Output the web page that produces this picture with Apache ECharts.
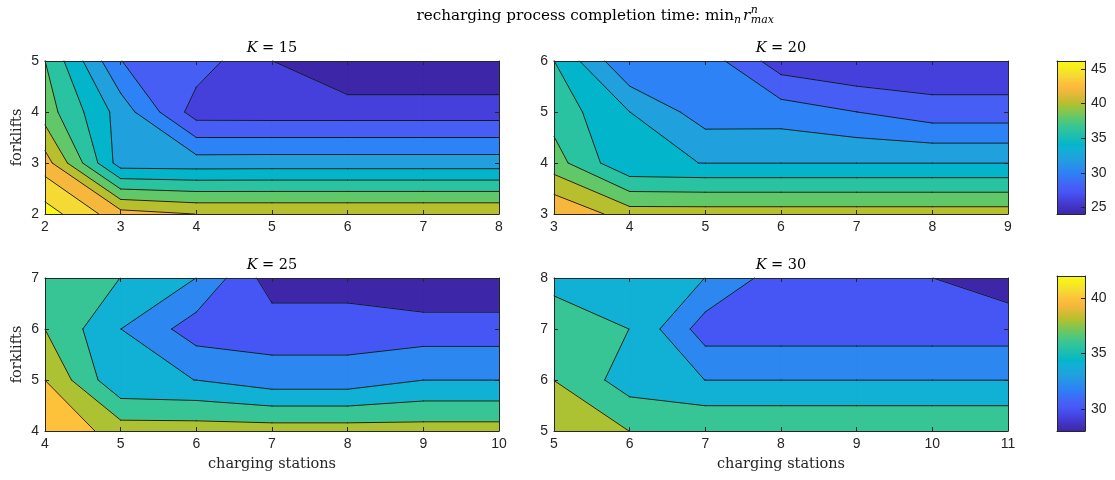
<!DOCTYPE html>
<html><head><meta charset="utf-8">
<script src="https://cdn.jsdelivr.net/npm/echarts@6/dist/echarts.min.js"></script>
<style>html,body{margin:0;padding:0;background:#fff}#chart{width:1115px;height:480px}</style>
</head><body><div id="chart"></div>
<script>
// ---------------- data ----------------
const fleetSizes = [15, 20, 25, 30];

const stations15 = [2, 3, 4, 5, 6, 7, 8];
const forklifts15 = [2, 3, 4, 5];
const time15 = [
  [46.96, 42.8, 41.98, 41.97, 41.97, 41.97, 41.97],
  [42.95, 33.0, 32.95, 33.0, 33.0, 33.0, 33.0],
  [39.0, 33.15, 27.05, 27.0, 27.0, 27.0, 27.0],
  [38.02, 30.02, 29.0, 26.02, 24.06, 24.06, 24.06]
];

const stations20 = [3, 4, 5, 6, 7, 8, 9];
const forklifts20 = [3, 4, 5, 6];
const time20 = [
  [43.95, 41.0, 41.0, 41.0, 41.0, 41.0, 41.0],
  [38.87, 34.2, 33.98, 33.98, 33.98, 33.98, 33.98],
  [37.2, 34.01, 31.0, 31.03, 30.01, 28.9, 28.9],
  [36.02, 30.05, 31.1, 26.9, 26.05, 26.25, 26.25]
];

const stations25 = [4, 5, 6, 7, 8, 9, 10];
const forklifts25 = [4, 5, 6, 7];
const time25 = [
  [41.94, 39.0, 39.0, 38.97, 38.97, 38.88, 38.88],
  [39.99, 34.3, 33.99, 32.9, 32.9, 33.99, 33.99],
  [37.99, 34.01, 31.02, 31.06, 31.06, 30.97, 30.97],
  [37.0, 35.99, 33.99, 28.98, 28.98, 28.03, 28.03]
];

const stations30 = [5, 6, 7, 8, 9, 10, 11];
const forklifts30 = [5, 6, 7, 8];
const time30 = [
  [39.0, 37.99, 37.98, 37.98, 37.98, 37.98, 37.98],
  [37.99, 35.02, 33.99, 33.99, 33.99, 33.99, 33.99],
  [37.0, 35.99, 31.0, 31.0, 31.0, 31.0, 31.0],
  [35.46, 35.0, 33.99, 30.92, 30.5, 30.01, 29.04]
];

const levelsTop = [26, 28, 30, 32, 34, 36, 38, 40, 42, 44, 46];
const levelsBottom = [30, 32, 34, 36, 38, 40];
const colorRangeTop = [24.06, 46.15];
const colorRangeBottom = [28.0, 42.0];
const colorTicksTop = [25, 30, 35, 40, 45];
const colorTicksBottom = [30, 35, 40];

// parula-like colormap stops [fraction, colour]
const parulaStops = [
  [0.000, '#3E26A8'], [0.088, '#4540DC'], [0.143, '#4656F5'], [0.178, '#475EF5'],
  [0.269, '#2D82F6'], [0.286, '#2C87F1'], [0.359, '#21A0DE'], [0.429, '#10B1D5'],
  [0.450, '#03B5CA'], [0.540, '#2AC3A1'], [0.571, '#38C595'], [0.630, '#60C86B'],
  [0.714, '#ADC232'], [0.725, '#BBBD2E'], [0.810, '#F6B73D'], [0.857, '#FEC13A'],
  [0.900, '#F5D835'], [1.000, '#F9FB0E']
];

// ---------------- helpers ----------------
function hex2rgb(h) { return [parseInt(h.substr(1,2),16), parseInt(h.substr(3,2),16), parseInt(h.substr(5,2),16)]; }
function parula(f) {
  f = Math.max(0, Math.min(1, f));
  for (let k = 0; k < parulaStops.length - 1; k++) {
    const a = parulaStops[k], b = parulaStops[k + 1];
    if (f <= b[0]) {
      const s = (f - a[0]) / (b[0] - a[0]);
      const ca = hex2rgb(a[1]), cb = hex2rgb(b[1]);
      const c = ca.map((v, i) => Math.round(v + s * (cb[i] - v)));
      return 'rgb(' + c.join(',') + ')';
    }
  }
  return parulaStops[parulaStops.length - 1][1];
}

const panels = [
  { K: fleetSizes[0], xs: stations15, ys: forklifts15, z: time15, levels: levelsTop, range: colorRangeTop },
  { K: fleetSizes[1], xs: stations20, ys: forklifts20, z: time20, levels: levelsTop, range: colorRangeTop },
  { K: fleetSizes[2], xs: stations25, ys: forklifts25, z: time25, levels: levelsBottom, range: colorRangeBottom },
  { K: fleetSizes[3], xs: stations30, ys: forklifts30, z: time30, levels: levelsBottom, range: colorRangeBottom }
];
const boxes = [
  { left: 45, top: 61, width: 454, height: 153 },
  { left: 554, top: 61, width: 454, height: 153 },
  { left: 45, top: 278, width: 454, height: 153 },
  { left: 554, top: 278, width: 454, height: 153 }
];
const cbBoxes = [
  { left: 1057, top: 61, width: 28, height: 153 },
  { left: 1057, top: 276, width: 28, height: 155 }
];

function clip(poly, t, keepAbove) {
  const out = [];
  const n = poly.length;
  for (let k = 0; k < n; k++) {
    const a = poly[k], b = poly[(k + 1) % n];
    const ina = keepAbove ? a.z >= t : a.z < t;
    const inb = keepAbove ? b.z >= t : b.z < t;
    if (ina) out.push(a);
    if (ina !== inb) {
      const s = (t - a.z) / (b.z - a.z);
      out.push({ x: a.x + s * (b.x - a.x), y: a.y + s * (b.y - a.y), z: t });
    }
  }
  return out;
}
function corners(p, i, j) {
  return [
    { x: p.xs[i], y: p.ys[j], z: p.z[j][i] },
    { x: p.xs[i + 1], y: p.ys[j], z: p.z[j][i + 1] },
    { x: p.xs[i + 1], y: p.ys[j + 1], z: p.z[j + 1][i + 1] },
    { x: p.xs[i], y: p.ys[j + 1], z: p.z[j + 1][i] }
  ];
}
function cellData(p) {
  const d = [];
  for (let j = 0; j < p.ys.length - 1; j++)
    for (let i = 0; i < p.xs.length - 1; i++) d.push([p.xs[i], p.ys[j], i, j]);
  return d;
}
function fillRender(p) {
  return function (params, api) {
    const i = api.value(2), j = api.value(3);
    const quad = corners(p, i, j);
    const children = [];
    const L = p.levels.length;
    for (let k = 0; k <= L; k++) {
      let poly = quad;
      if (k > 0) poly = clip(poly, p.levels[k - 1], true);
      if (k < L && poly.length) poly = clip(poly, p.levels[k], false);
      if (poly.length < 3) continue;
      const v = k === 0 ? p.range[0] : p.levels[k - 1];
      const col = parula((v - p.range[0]) / (p.range[1] - p.range[0]));
      children.push({ type: 'polygon', shape: { points: poly.map(q => api.coord([q.x, q.y])) },
        style: { fill: col, stroke: col, lineWidth: 1.2, lineJoin: 'round' } });
    }
    return { type: 'group', children };
  };
}
function lineRender(p) {
  return function (params, api) {
    const i = api.value(2), j = api.value(3);
    const quad = corners(p, i, j);
    const children = [];
    for (const t of p.levels) {
      const cr = [];
      for (let e = 0; e < 4; e++) {
        const a = quad[e], b = quad[(e + 1) % 4];
        const ua = a.z >= t, ub = b.z >= t;
        if (ua !== ub) {
          const s = (t - a.z) / (b.z - a.z);
          cr.push({ pt: api.coord([a.x + s * (b.x - a.x), a.y + s * (b.y - a.y)]), exit: ua });
        }
      }
      for (let m = 0; m < cr.length; m++) {
        if (cr[m].exit) {
          const nx = cr[(m + 1) % cr.length];
          children.push({ type: 'line', shape: { x1: cr[m].pt[0], y1: cr[m].pt[1], x2: nx.pt[0], y2: nx.pt[1] },
            style: { stroke: '#111', lineWidth: 0.9, lineCap: 'round' } });
        }
      }
    }
    return { type: 'group', children };
  };
}
function cbRender(range) {
  return function (params, api) {
    const p0 = api.coord([0, range[0]]), p1 = api.coord([1, range[1]]);
    return { type: 'rect', shape: { x: p0[0], y: p1[1], width: p1[0] - p0[0], height: p0[1] - p1[1] },
      style: { fill: new echarts.graphic.LinearGradient(0, 1, 0, 0, parulaStops.map(s => ({ offset: s[0], color: s[1] }))) } };
  };
}

// ---------------- option ----------------
const axisColor = '#262626';
const sans = "'Liberation Sans', Arial, Helvetica, sans-serif";
const serif = "'DejaVu Serif', serif";
const grids = [], xAxes = [], yAxes = [], series = [];

function axisBase(g, min, max, pos, showLabel, showTick) {
  return {
    type: 'value', gridIndex: g, min, max, position: pos, z: 5,
    axisLine: { show: true, onZero: false, lineStyle: { color: axisColor, width: 1 } },
    axisTick: { show: showTick, inside: true, length: 4, lineStyle: { color: axisColor, width: 1 } },
    axisLabel: { show: showLabel, color: axisColor, fontFamily: sans, fontSize: 14, margin: 6 },
    splitLine: { show: false }
  };
}

panels.forEach((p, g) => {
  grids.push(Object.assign({ containLabel: false }, boxes[g]));
  const xmin = p.xs[0], xmax = p.xs[p.xs.length - 1], ymin = p.ys[0], ymax = p.ys[p.ys.length - 1];
  const xb = axisBase(g, xmin, xmax, 'bottom', true, true); xb.interval = 1;
  const xt = axisBase(g, xmin, xmax, 'top', false, true); xt.interval = 1;
  const yl = axisBase(g, ymin, ymax, 'left', true, true); yl.interval = 1; yl.axisLabel.margin = 6;
  const yr = axisBase(g, ymin, ymax, 'right', false, true); yr.interval = 1;
  const xi = xAxes.length, yi = yAxes.length;
  xAxes.push(xb, xt); yAxes.push(yl, yr);
  series.push({ type: 'custom', coordinateSystem: 'cartesian2d', xAxisIndex: xi, yAxisIndex: yi, z: 1,
    data: cellData(p), encode: { x: 0, y: 1 }, renderItem: fillRender(p), silent: true, animation: false, clip: true });
  series.push({ type: 'custom', coordinateSystem: 'cartesian2d', xAxisIndex: xi, yAxisIndex: yi, z: 2,
    data: cellData(p), encode: { x: 0, y: 1 }, renderItem: lineRender(p), silent: true, animation: false });
});

[[colorRangeTop, colorTicksTop], [colorRangeBottom, colorTicksBottom]].forEach((cb, c) => {
  const g = grids.length;
  grids.push(Object.assign({ containLabel: false }, cbBoxes[c]));
  const xb = axisBase(g, 0, 1, 'bottom', false, false);
  const xt = axisBase(g, 0, 1, 'top', false, false);
  const yl = axisBase(g, cb[0][0], cb[0][1], 'left', false, false);
  const yr = axisBase(g, cb[0][0], cb[0][1], 'right', true, true);
  yr.axisTick.customValues = cb[1];
  yr.axisLabel.customValues = cb[1];
  yr.axisLabel.margin = 6;
  const xi = xAxes.length, yi = yAxes.length;
  xAxes.push(xb, xt); yAxes.push(yl, yr);
  series.push({ type: 'custom', coordinateSystem: 'cartesian2d', xAxisIndex: xi, yAxisIndex: yi, z: 1,
    data: [[0, cb[0][0]]], encode: { x: 0, y: 1 }, renderItem: cbRender(cb[0]), silent: true, animation: false });
});

// ---------------- texts ----------------
const graphic = [];
panels.forEach((p, g) => {
  graphic.push({ type: 'text', x: boxes[g].left + boxes[g].width / 2, y: boxes[g].top - 13, z: 10,
    style: { text: '{i|K} = ' + p.K, fontFamily: serif, fontSize: 14.5, fill: '#000', align: 'center', verticalAlign: 'middle',
      rich: { i: { fontFamily: serif, fontSize: 14.5, fontStyle: 'italic', fill: '#000' } } } });
});
[0, 2].forEach(g => {
  graphic.push({ type: 'text', x: 17, y: boxes[g].top + boxes[g].height / 2, rotation: Math.PI / 2, z: 10,
    style: { text: 'forklifts', fontFamily: serif, fontSize: 14.5, fill: axisColor, align: 'center', verticalAlign: 'middle' } });
});
[2, 3].forEach(g => {
  graphic.push({ type: 'text', x: boxes[g].left + boxes[g].width / 2, y: 464, z: 10,
    style: { text: 'charging stations', fontFamily: serif, fontSize: 14.5, fill: axisColor, align: 'center', verticalAlign: 'middle' } });
});
(function () {
  const ctx = document.createElement('canvas').getContext('2d');
  const big = 15.2, small = 11;
  function w(t, italic, size) { ctx.font = (italic ? 'italic ' : '') + size + 'px ' + serif; return ctx.measureText(t).width; }
  const parts = [
    { t: 'recharging process completion time: min', it: false, s: big, dy: 0 },
    { t: 'n', it: true, s: small, dy: 4 },
    { gap: 2 },
    { t: 'r', it: true, s: big, dy: 0 }
  ];
  let total = 0;
  parts.forEach(q => { total += q.gap ? q.gap : w(q.t, q.it, q.s); });
  const supW = Math.max(w('n', true, small), w('max', true, small));
  total += supW;
  let x = 595 - total / 2;
  const y = 16;
  parts.forEach(q => {
    if (q.gap) { x += q.gap; return; }
    graphic.push({ type: 'text', x, y: y + q.dy, z: 10,
      style: { text: q.t, fontFamily: serif, fontSize: q.s, fontStyle: q.it ? 'italic' : 'normal', fill: '#000', align: 'left', verticalAlign: 'middle' } });
    x += w(q.t, q.it, q.s);
  });
  graphic.push({ type: 'text', x: x + 0.5, y: y - 6, z: 10,
    style: { text: 'n', fontFamily: serif, fontSize: small, fontStyle: 'italic', fill: '#000', align: 'left', verticalAlign: 'middle' } });
  graphic.push({ type: 'text', x: x + 0.5, y: y + 4, z: 10,
    style: { text: 'max', fontFamily: serif, fontSize: small, fontStyle: 'italic', fill: '#000', align: 'left', verticalAlign: 'middle' } });
})();

const chart = echarts.init(document.getElementById('chart'), null, { renderer: 'canvas' });
chart.setOption({
  backgroundColor: '#ffffff',
  animation: false,
  grid: grids,
  xAxis: xAxes,
  yAxis: yAxes,
  series: series,
  graphic: graphic
});
</script></body></html>
